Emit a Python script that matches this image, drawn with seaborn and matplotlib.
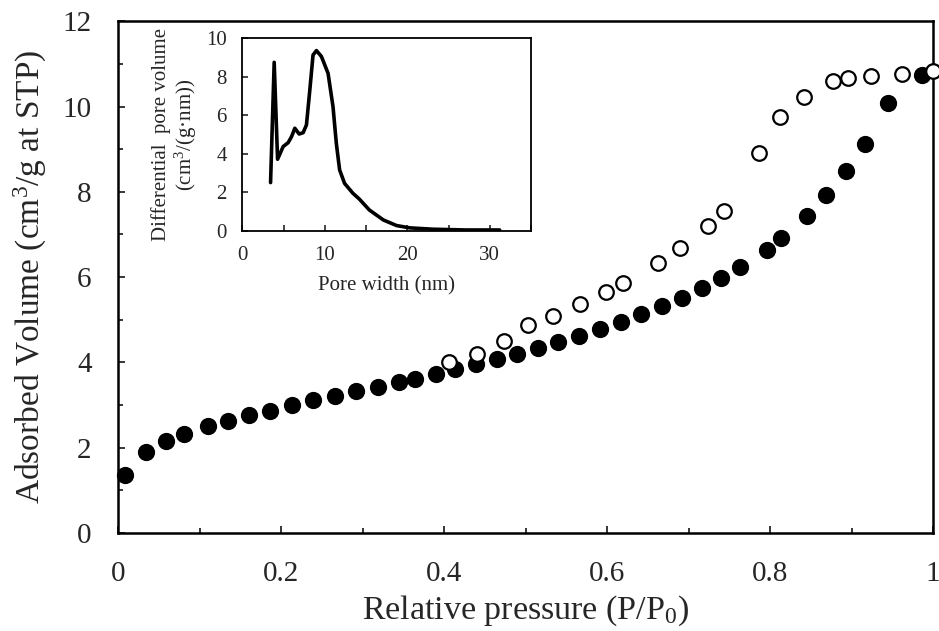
import numpy as np
import pandas as pd
import matplotlib
matplotlib.use("Agg")
import matplotlib.pyplot as plt
import seaborn as sns
from matplotlib.ticker import MultipleLocator

# adsorption branch (filled)
ads_p = [0.009, 0.034, 0.059, 0.081, 0.110, 0.135, 0.161, 0.187, 0.213, 0.239,
         0.266, 0.292, 0.319, 0.345, 0.364, 0.390, 0.414, 0.439, 0.465, 0.490,
         0.515, 0.540, 0.565, 0.591, 0.617, 0.642, 0.668, 0.692, 0.716, 0.740,
         0.763, 0.796, 0.813, 0.845, 0.869, 0.893, 0.916, 0.945, 0.986]
ads_v = [1.36, 1.91, 2.16, 2.32, 2.52, 2.63, 2.77, 2.87, 2.99, 3.11,
         3.22, 3.33, 3.43, 3.55, 3.62, 3.74, 3.85, 3.97, 4.07, 4.20,
         4.33, 4.47, 4.61, 4.78, 4.95, 5.13, 5.33, 5.51, 5.74, 5.99,
         6.24, 6.64, 6.92, 7.44, 7.93, 8.48, 9.13, 10.09, 10.75]

# desorption branch (open)
des_p = [1.000, 0.962, 0.924, 0.896, 0.877, 0.842, 0.812, 0.786, 0.744, 0.724,
         0.689, 0.662, 0.620, 0.599, 0.567, 0.534, 0.503, 0.474, 0.441, 0.406]
des_v = [10.83, 10.77, 10.71, 10.67, 10.59, 10.23, 9.76, 8.91, 7.54, 7.21,
         6.69, 6.33, 5.86, 5.66, 5.38, 5.10, 4.88, 4.51, 4.20, 4.02]

# pore size distribution (inset)
pore_w = [3.43, 3.87, 4.28, 4.96, 5.56, 5.97, 6.37, 6.9, 7.38, 7.78, 8.19, 8.58,
          8.99, 9.6, 10.4, 11.0, 11.4, 11.8, 12.4, 13.4, 14.2, 15.4, 17.1, 18.7,
          20.3, 23.1, 27.1, 31.2]
pore_dv = [2.51, 8.75, 3.72, 4.38, 4.58, 4.89, 5.33, 5.03, 5.10, 5.5, 7.32, 9.13,
           9.36, 9.05, 8.18, 6.45, 4.55, 3.17, 2.47, 1.96, 1.65, 1.09, 0.57, 0.28,
           0.16, 0.09, 0.05, 0.05]

sns.set_theme(style="ticks")
plt.rcParams['font.family'] = ['Liberation Serif', 'DejaVu Serif']
plt.rcParams['mathtext.fontset'] = 'custom'
plt.rcParams['mathtext.rm'] = 'Liberation Serif'
plt.rcParams['mathtext.it'] = 'Liberation Serif:italic'

fig = plt.figure(figsize=(9.39, 6.31), dpi=100)
ax = fig.add_axes([0.1257, 0.1553, 0.868, 0.811])

df_ads = pd.DataFrame({'p': ads_p, 'v': ads_v})
df_des = pd.DataFrame({'p': des_p, 'v': des_v})
sns.scatterplot(data=df_ads, x='p', y='v', ax=ax, s=130, color='black',
                edgecolor='black', linewidth=1, clip_on=False, zorder=3)
sns.scatterplot(data=df_des, x='p', y='v', ax=ax, s=110, color='white',
                edgecolor='black', linewidth=1.6, clip_on=False, zorder=4)

ax.set_xlim(0, 1)
ax.set_ylim(0, 12)
ax.xaxis.set_minor_locator(MultipleLocator(0.1))
ax.yaxis.set_major_locator(MultipleLocator(2))
ax.yaxis.set_minor_locator(MultipleLocator(1))
ax.set_xticks([0, 0.2, 0.4, 0.6, 0.8, 1.0])
ax.set_xticklabels(['0', '0.2', '0.4', '0.6', '0.8', '1'])
ax.tick_params(which='major', direction='in', length=5, width=1.3,
               labelsize=21)
ax.tick_params(axis='x', which='major', pad=20)
ax.tick_params(axis='y', which='major', pad=19)
ax.tick_params(which='minor', direction='in', length=3.5, width=1.3)
for sp in ax.spines.values():
    sp.set_linewidth(1.8)
    sp.set_color('black')
ax.set_xlabel('Relative pressure (P/P$_0$)', fontsize=24.5, labelpad=5)
ax.set_ylabel('Adsorbed Volume (cm$^3$/g at STP)', fontsize=24, labelpad=10)

# inset
ins = fig.add_axes([0.258, 0.634, 0.3075, 0.3054])
df_psd = pd.DataFrame({'w': pore_w, 'dv': pore_dv})
sns.lineplot(data=df_psd, x='w', y='dv', ax=ins, color='black', linewidth=2.6,
             sort=False, estimator=None)
ins.set_xlim(0, 35)
ins.set_ylim(0, 10)
ins.set_xticks([0, 10, 20, 30])
ins.xaxis.set_minor_locator(MultipleLocator(5))
ins.yaxis.set_major_locator(MultipleLocator(2))
ins.tick_params(which='major', direction='in', length=4, width=1.2,
                labelsize=15, pad=11)
ins.tick_params(which='minor', direction='in', length=4, width=1.2)
for sp in ins.spines.values():
    sp.set_linewidth(1.3)
    sp.set_color('black')
ins.set_xlabel('Pore width (nm)', fontsize=15, labelpad=8)
ins.set_ylabel('Differential  pore volume\n(cm$^3$/(g·nm))', fontsize=15,
               labelpad=5, linespacing=1.1)

fig.savefig('out.png', dpi=100)
